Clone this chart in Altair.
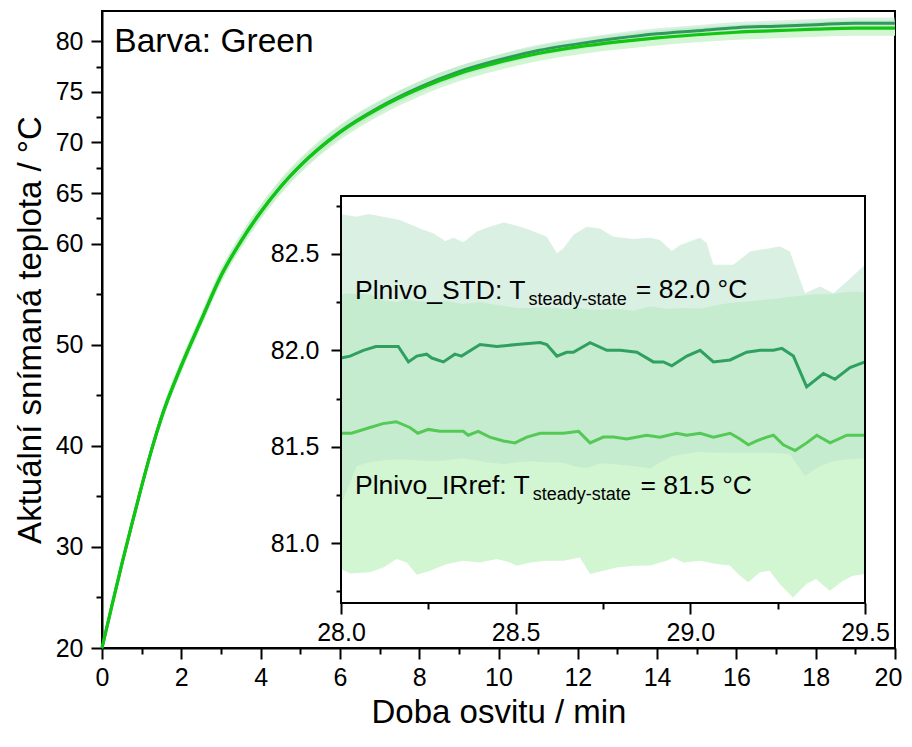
import altair as alt
import pandas as pd

# ---------------- main chart data ----------------
main_t = [0, 0.25, 0.5, 0.75, 1, 1.25, 1.5, 2, 2.5, 3, 3.5, 4, 4.5, 5, 6, 7, 8, 9, 10,
          11, 12, 13, 14, 15, 16, 17, 18, 19, 20]
ir_mean = [20.0, 24.2, 28.3, 32.2, 36.0, 39.6, 42.8, 47.9, 52.4, 56.8, 60.2, 63.1, 65.6, 67.7,
           71.0, 73.4, 75.3, 76.8, 77.9, 78.8, 79.45, 79.95, 80.35, 80.65, 80.9, 81.05, 81.2, 81.3, 81.3]
std_mean = [20.0, 24.2, 28.3, 32.2, 36.0, 39.6, 42.8, 47.9, 52.4, 56.8, 60.2, 63.1, 65.6, 67.7,
            71.05, 73.5, 75.45, 77.0, 78.15, 79.1, 79.75, 80.3, 80.75, 81.05, 81.35, 81.5, 81.65, 81.8, 81.8]
ir_half = [0.2, 0.3, 0.4, 0.5, 0.55, 0.6, 0.65, 0.7, 0.7, 0.75, 0.75, 0.75, 0.75, 0.75,
           0.75, 0.75, 0.75, 0.75, 0.75, 0.75, 0.75, 0.75, 0.75, 0.75, 0.75, 0.75, 0.75, 0.75, 0.75]
std_half = [0.15, 0.25, 0.3, 0.35, 0.4, 0.45, 0.5, 0.5, 0.55, 0.55, 0.55, 0.55, 0.55, 0.55,
            0.55, 0.55, 0.55, 0.55, 0.55, 0.55, 0.55, 0.55, 0.55, 0.55, 0.55, 0.55, 0.55, 0.55, 0.55]

main_x_ticks = [0, 2, 4, 6, 8, 10, 12, 14, 16, 18, 20]
main_x_minor = [1, 3, 5, 7, 9, 11, 13, 15, 17, 19]
main_y_ticks = [20, 30, 40, 50, 60, 65, 70, 75, 80]
main_y_minor = [25, 35, 45, 55, 62.5, 67.5, 72.5, 77.5]
main_x_domain = [0, 20]
main_y_domain = [20, 83]

# ---------------- inset data ----------------
std_t = [28.0, 28.026, 28.064, 28.10, 28.164, 28.193, 28.217, 28.245, 28.26, 28.293, 28.326,
         28.345, 28.398, 28.446, 28.503, 28.57, 28.589, 28.618, 28.646, 28.665, 28.713, 28.761,
         28.80, 28.847, 28.894, 28.923, 28.947, 28.99, 29.028, 29.066, 29.114, 29.161, 29.20,
         29.238, 29.262, 29.295, 29.333, 29.381, 29.414, 29.457, 29.5]
std_v = [81.96, 81.97, 82.00, 82.02, 82.02, 81.94, 81.97, 81.98, 81.96, 81.94, 81.98,
         81.97, 82.03, 82.02, 82.03, 82.04, 82.03, 81.97, 81.99, 81.99, 82.04, 82.00,
         82.00, 81.99, 81.94, 81.94, 81.92, 81.97, 82.00, 81.94, 81.95, 81.99, 82.00,
         82.00, 82.01, 81.97, 81.81, 81.88, 81.85, 81.91, 81.94]

ir_t = [28.0, 28.03, 28.083, 28.12, 28.158, 28.197, 28.22, 28.25, 28.283, 28.33, 28.35,
        28.364, 28.393, 28.426, 28.465, 28.498, 28.532, 28.57, 28.637, 28.68, 28.713, 28.751,
        28.78, 28.818, 28.875, 28.913, 28.961, 28.99, 29.028, 29.066, 29.114, 29.142, 29.166,
        29.19, 29.219, 29.238, 29.266, 29.30, 29.333, 29.362, 29.40, 29.448, 29.5]
ir_v = [81.57, 81.57, 81.60, 81.62, 81.63, 81.60, 81.57, 81.59, 81.58, 81.58, 81.58,
        81.56, 81.58, 81.55, 81.53, 81.52, 81.55, 81.57, 81.57, 81.58, 81.52, 81.55,
        81.55, 81.54, 81.56, 81.55, 81.57, 81.56, 81.57, 81.55, 81.57, 81.54, 81.51,
        81.53, 81.55, 81.56, 81.51, 81.48, 81.52, 81.56, 81.52, 81.56, 81.56]

stdband_t = [28.0, 28.045, 28.078, 28.121, 28.169, 28.226, 28.264, 28.298, 28.322, 28.35,
             28.388, 28.417, 28.465, 28.503, 28.541, 28.589, 28.618, 28.637, 28.665, 28.703,
             28.741, 28.78, 28.837, 28.885, 28.913, 28.947, 28.971, 29.028, 29.047, 29.066,
             29.123, 29.171, 29.2, 29.257, 29.285, 29.328, 29.371, 29.41, 29.448, 29.5]
stdband_hi = [82.705, 82.693, 82.707, 82.693, 82.676, 82.632, 82.607, 82.567, 82.584, 82.56,
              82.615, 82.636, 82.663, 82.646, 82.624, 82.589, 82.503, 82.529, 82.598, 82.641,
              82.632, 82.589, 82.577, 82.584, 82.572, 82.515, 82.546, 82.584, 82.555, 82.443,
              82.443, 82.512, 82.521, 82.538, 82.512, 82.296, 82.331, 82.296, 82.357, 82.443]
stdband_lo = [81.20, 81.40, 81.42, 81.43, 81.435, 81.43, 81.426, 81.43, 81.435, 81.44,
              81.43, 81.42, 81.41, 81.42, 81.425, 81.42, 81.42, 81.417, 81.40, 81.39,
              81.415, 81.41, 81.40, 81.388, 81.42, 81.45, 81.46, 81.474, 81.472, 81.47,
              81.469, 81.469, 81.469, 81.466, 81.46, 81.35, 81.40, 81.426, 81.435, 81.44]

irband_t = [28.0, 28.026, 28.083, 28.121, 28.159, 28.188, 28.217, 28.255, 28.303, 28.35,
            28.398, 28.446, 28.484, 28.503, 28.541, 28.589, 28.637, 28.684, 28.713, 28.751,
            28.789, 28.837, 28.885, 28.932, 28.951, 28.98, 29.028, 29.075, 29.113, 29.142,
            29.166, 29.199, 29.227, 29.256, 29.294, 29.332, 29.36, 29.399, 29.437, 29.466, 29.5]
irband_hi = [82.29, 82.295, 82.29, 82.26, 82.25, 82.265, 82.255, 82.25, 82.255, 82.24,
             82.25, 82.235, 82.225, 82.22, 82.22, 82.225, 82.215, 82.22, 82.21, 82.21,
             82.215, 82.205, 82.228, 82.215, 82.215, 82.22, 82.215, 82.233, 82.245, 82.25,
             82.253, 82.26, 82.265, 82.27, 82.279, 82.285, 82.29, 82.29, 82.30, 82.305, 82.30]
irband_lo = [80.866, 80.843, 80.849, 80.874, 80.918, 80.90, 80.837, 80.857, 80.892, 80.909,
             80.90, 80.918, 80.90, 80.883, 80.90, 80.909, 80.909, 80.926, 80.84, 80.857,
             80.874, 80.883, 80.885, 80.909, 80.926, 80.90, 80.909, 80.892, 80.885, 80.831,
             80.797, 80.849, 80.857, 80.789, 80.719, 80.789, 80.814, 80.754, 80.806, 80.831, 80.84]

inset_x_ticks = [28.0, 28.5, 29.0, 29.5]
inset_x_minor = [28.25, 28.75, 29.25]
inset_y_ticks = [81.0, 81.5, 82.0, 82.5]
inset_y_minor = [80.75, 81.25, 81.75, 82.25, 82.75]
inset_x_domain = [28.0, 29.5]
inset_y_domain = [80.69, 82.8]

# annotations
ann_text = ["Plnivo_STD: T", "steady-state", "= 82.0 °C",
            "Plnivo_IRref: T", "steady-state", "= 81.5 °C"]
ann_t = [28.04, 28.537, 28.844, 28.04, 28.549, 28.857]
ann_v = [82.267, 82.236, 82.27, 81.254, 81.222, 81.254]
ann_size = [26.5, 18, 26.5, 26.5, 18, 26.5]

# colours
C_IR_MAIN = "#10c610"
C_STD_MAIN = "#2e9b5b"
C_IR_IN = "#55c955"
C_STD_IN = "#2fa060"
C_IR_BAND = "#d2f5d2"
C_STD_BAND = "#b9e3cc"
FONT = "Liberation Sans"

W, H = 793, 637
PX_IN_X = [239, 763]
PX_IN_Y = [592, 185]

# ---------------- main ----------------
main_df = pd.DataFrame({
    "t": main_t, "ir": ir_mean, "std": std_mean,
    "ir_lo": [m - h for m, h in zip(ir_mean, ir_half)],
    "ir_hi": [m + h for m, h in zip(ir_mean, ir_half)],
    "std_lo": [m - h for m, h in zip(std_mean, std_half)],
    "std_hi": [m + h for m, h in zip(std_mean, std_half)],
})
xs_main = alt.Scale(domain=main_x_domain, nice=False, zero=False)
ys_main = alt.Scale(domain=main_y_domain, nice=False, zero=False)

x_main_axis = alt.Axis(orient="bottom", values=main_x_ticks, tickSize=11, labelPadding=6,
                       labelFontSize=25, titleFontSize=33, titlePadding=6, labelFlush=False,
                       labelOverlap=False, format="d",
                       labelOffset={"condition": {"test": "datum.value == 20", "value": -7},
                                    "value": 0})
y_main_axis = alt.Axis(orient="left", values=main_y_ticks, tickSize=11, labelPadding=8,
                       labelFontSize=25, titleFontSize=33, titlePadding=8, labelOverlap=False,
                       format="d")
X_TITLE = "Doba osvitu / min"
Y_TITLE = "Aktuální snímaná teplota / °C"


def mx(field):
    return alt.X(field, scale=xs_main, axis=x_main_axis, title=X_TITLE)


def my(field):
    return alt.Y(field, scale=ys_main, axis=y_main_axis, title=Y_TITLE)


mb = alt.Chart(main_df)
ir_band_m = mb.mark_area(color=C_IR_BAND, interpolate="monotone").encode(
    x=mx("t:Q"), y=my("ir_lo:Q"), y2="ir_hi:Q")
std_band_m = mb.mark_area(color=C_STD_BAND, opacity=0.55, interpolate="monotone").encode(
    x=mx("t:Q"), y=my("std_lo:Q"), y2="std_hi:Q")
std_line_m = mb.mark_line(color=C_STD_MAIN, strokeWidth=3, interpolate="monotone").encode(
    x=mx("t:Q"), y=my("std:Q"))
ir_line_m = mb.mark_line(color=C_IR_MAIN, strokeWidth=3.2, interpolate="monotone").encode(
    x=mx("t:Q"), y=my("ir:Q"))
barva = alt.Chart(pd.DataFrame({"t": [0.31], "v": [78.9], "s": ["Barva: Green"]})).mark_text(
    align="left", baseline="alphabetic", font=FONT, fontSize=33.5, color="black").encode(
    x=mx("t:Q"), y=my("v:Q"), text="s:N")

main_minor = mb.mark_line(opacity=0).encode(
    x=alt.X("t:Q", scale=xs_main, title=None,
            axis=alt.Axis(orient="bottom", values=main_x_minor, tickSize=6, labels=False,
                          domain=False)),
    y=alt.Y("ir:Q", scale=ys_main, title=None,
            axis=alt.Axis(orient="left", values=main_y_minor, tickSize=6, labels=False,
                          domain=False)))

main = alt.layer(alt.layer(ir_band_m, std_band_m, std_line_m, ir_line_m, barva),
                 main_minor).resolve_axis(x="independent", y="independent")

# ---------------- inset ----------------
xs_in = alt.Scale(domain=inset_x_domain, range=PX_IN_X, nice=False, zero=False)
ys_in = alt.Scale(domain=inset_y_domain, range=PX_IN_Y, nice=False, zero=False)

x_in_axis = alt.Axis(orient="bottom", values=inset_x_ticks, offset=-45, tickSize=11,
                     labelPadding=6, labelFontSize=25, format=".1f", domain=False,
                     labelFlush=False, labelOverlap=False)
y_in_axis = alt.Axis(orient="left", values=inset_y_ticks, offset=-239, tickSize=10,
                     labelPadding=12, labelFontSize=25, format=".1f", domain=False,
                     labelOverlap=False)


def ix(field):
    return alt.X(field, scale=xs_in, axis=x_in_axis, title=None)


def iy(field):
    return alt.Y(field, scale=ys_in, axis=y_in_axis, title=None)


irb_df = pd.DataFrame({"t": irband_t, "lo": irband_lo, "hi": irband_hi})
stdb_df = pd.DataFrame({"t": stdband_t, "lo": stdband_lo, "hi": stdband_hi})
irl_df = pd.DataFrame({"t": ir_t, "v": ir_v})
stdl_df = pd.DataFrame({"t": std_t, "v": std_v})
ann_df = pd.DataFrame({"t": ann_t, "v": ann_v, "s": ann_text, "size": ann_size})
frame_df = pd.DataFrame({"t": [inset_x_domain[0]], "t2": [inset_x_domain[1]],
                         "v": [inset_y_domain[0]], "v2": [inset_y_domain[1]]})

ir_band_i = alt.Chart(irb_df).mark_area(color=C_IR_BAND).encode(
    x=ix("t:Q"), y=iy("lo:Q"), y2="hi:Q")
std_band_i = alt.Chart(stdb_df).mark_area(color=C_STD_BAND, opacity=0.55).encode(
    x=ix("t:Q"), y=iy("lo:Q"), y2="hi:Q")
std_line_i = alt.Chart(stdl_df).mark_line(color=C_STD_IN, strokeWidth=3).encode(
    x=ix("t:Q"), y=iy("v:Q"))
ir_line_i = alt.Chart(irl_df).mark_line(color=C_IR_IN, strokeWidth=3).encode(
    x=ix("t:Q"), y=iy("v:Q"))
ann_i = alt.Chart(ann_df).mark_text(align="left", baseline="alphabetic", font=FONT,
                                    color="black").encode(
    x=ix("t:Q"), y=iy("v:Q"), text="s:N", size=alt.Size("size:Q", scale=None))
frame_i = alt.Chart(frame_df).mark_rect(fillOpacity=0, stroke="black", strokeWidth=2).encode(
    x=ix("t:Q"), x2="t2:Q", y=iy("v:Q"), y2="v2:Q")

inset_minor = alt.Chart(irl_df).mark_line(opacity=0).encode(
    x=alt.X("t:Q", scale=xs_in, title=None,
            axis=alt.Axis(orient="bottom", values=inset_x_minor, offset=-45, tickSize=6,
                          labels=False, domain=False)),
    y=alt.Y("v:Q", scale=ys_in, title=None,
            axis=alt.Axis(orient="left", values=inset_y_minor, offset=-239, tickSize=5,
                          labels=False, domain=False)))

inset = alt.layer(alt.layer(ir_band_i, std_band_i, std_line_i, ir_line_i, ann_i, frame_i),
                  inset_minor).resolve_axis(x="independent", y="independent")

chart = alt.layer(main, inset).resolve_scale(x="independent", y="independent").properties(
    width=W, height=H,
    autosize=alt.AutoSizeParams(type="none"),
    padding={"left": 94, "top": 3, "right": 9, "bottom": 85},
    background="white",
).configure_view(stroke="black", strokeWidth=2).configure_axis(
    domainColor="black", domainWidth=2, tickColor="black", tickWidth=2,
    labelColor="black", titleColor="black", labelFont=FONT, titleFont=FONT,
    titleFontWeight="normal", grid=False,
)

chart.save("out.html", embed_options={"renderer": "svg", "actions": False})
